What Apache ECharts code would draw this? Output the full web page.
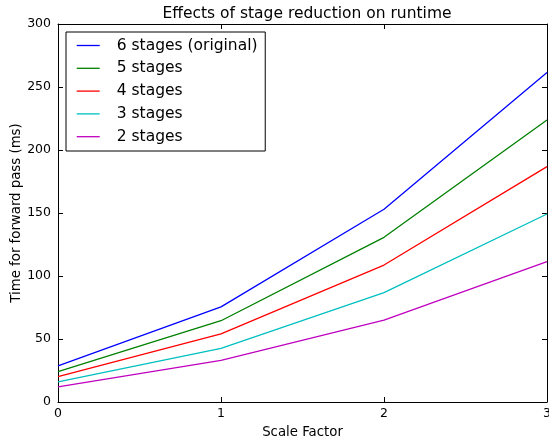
<!DOCTYPE html>
<html>
<head>
<meta charset="utf-8">
<script src="https://cdn.jsdelivr.net/npm/echarts@6/dist/echarts.min.js"></script>
<style>
  html, body { margin: 0; padding: 0; background: #fff; }
  #main { width: 549px; height: 442px; }
</style>
</head>
<body>
<div id="main"></div>
<script>
// scale factors on the x axis
var scaleFactors = [0, 1, 2, 3];

// forward pass time (ms)
var stages6 = [28.6, 75.5, 153, 261.5];
var stages5 = [24.2, 64.5, 130.7, 223.8];
var stages4 = [20.2, 54, 108.7, 186.8];
var stages3 = [16, 42.6, 86.8, 149.2];
var stages2 = [12, 33, 65, 111.4];

var seriesNames = ["6 stages (original)", "5 stages", "4 stages", "3 stages", "2 stages"];
var seriesColors = ["#0000ff", "#008000", "#ff0000", "#00bfbf", "#bf00bf"];
var seriesValues = [stages6, stages5, stages4, stages3, stages2];

var font = "DejaVu Sans";
var chart = echarts.init(document.getElementById("main"));

function pairs(vals) {
    var out = [];
    for (var i = 0; i < scaleFactors.length; i++) {
        out.push([scaleFactors[i], vals[i]]);
    }
    return out;
}

var series = [];
for (var i = 0; i < seriesNames.length; i++) {
    series.push({
        name: seriesNames[i],
        type: "line",
        data: pairs(seriesValues[i]),
        symbol: "none",
        color: seriesColors[i],
        lineStyle: { width: 1.3, color: seriesColors[i] },
        animation: false
    });
}

// matplotlib classic look: ticks pointing in, on all four sides
// (onZero off, otherwise the top/right axes get pulled onto the zero line)
var tickIn = { show: true, inside: true, length: 5, lineStyle: { color: "#000", width: 1 } };
var lineBlack = { show: true, onZero: false, lineStyle: { color: "#000", width: 1 } };

chart.setOption({
    animation: false,
    backgroundColor: "#fff",
    title: {
        text: "Effects of stage reduction on runtime",
        left: 302,
        textAlign: "center",
        top: 1,
        textStyle: { fontFamily: font, fontSize: 15.5, fontWeight: "normal", color: "#000" }
    },
    legend: {
        left: 66,
        top: 32,
        orient: "vertical",
        data: seriesNames.map(function (n, k) {
            return { name: n, icon: "rect", itemStyle: { color: seriesColors[k] } };
        }),
        itemWidth: 23,
        itemHeight: 1.3,
        itemGap: 4.8,
        padding: [4.5, 7.7, 5.3, 10.7],
        borderColor: "#000",
        borderWidth: 1,
        borderRadius: 0,
        backgroundColor: "#fff",
        textStyle: { fontFamily: font, fontSize: 15.5, color: "#000", lineHeight: 18, padding: [0, 0, 0, 12] }
    },
    grid: { left: 58, right: 2, top: 24, bottom: 40, containLabel: false, outerBoundsMode: "none" },
    xAxis: [{
        type: "value",
        min: 0, max: 3, interval: 1,
        name: "Scale Factor",
        nameLocation: "middle",
        nameGap: 24,
        nameMoveOverlap: false,
        nameTextStyle: { fontFamily: font, fontSize: 13.3, color: "#000" },
        axisLine: lineBlack,
        axisTick: tickIn,
        splitLine: { show: false },
        axisLabel: { fontFamily: font, fontSize: 12.5, color: "#000", margin: 5 }
    }, {
        type: "value",
        position: "top",
        min: 0, max: 3, interval: 1,
        axisLine: lineBlack,
        axisTick: tickIn,
        splitLine: { show: false },
        axisLabel: { show: false }
    }],
    yAxis: [{
        type: "value",
        position: "left",
        min: 0, max: 300, interval: 50,
        name: "Time for forward pass (ms)",
        nameLocation: "middle",
        nameGap: 35,
        nameMoveOverlap: false,
        nameTextStyle: { fontFamily: font, fontSize: 13.3, color: "#000" },
        axisLine: lineBlack,
        axisTick: tickIn,
        splitLine: { show: false },
        axisLabel: { fontFamily: font, fontSize: 12.5, color: "#000", margin: 7 }
    }, {
        type: "value",
        position: "right",
        min: 0, max: 300, interval: 50,
        axisLine: lineBlack,
        axisTick: tickIn,
        splitLine: { show: false },
        axisLabel: { show: false }
    }],
    series: series
});
</script>
</body>
</html>
